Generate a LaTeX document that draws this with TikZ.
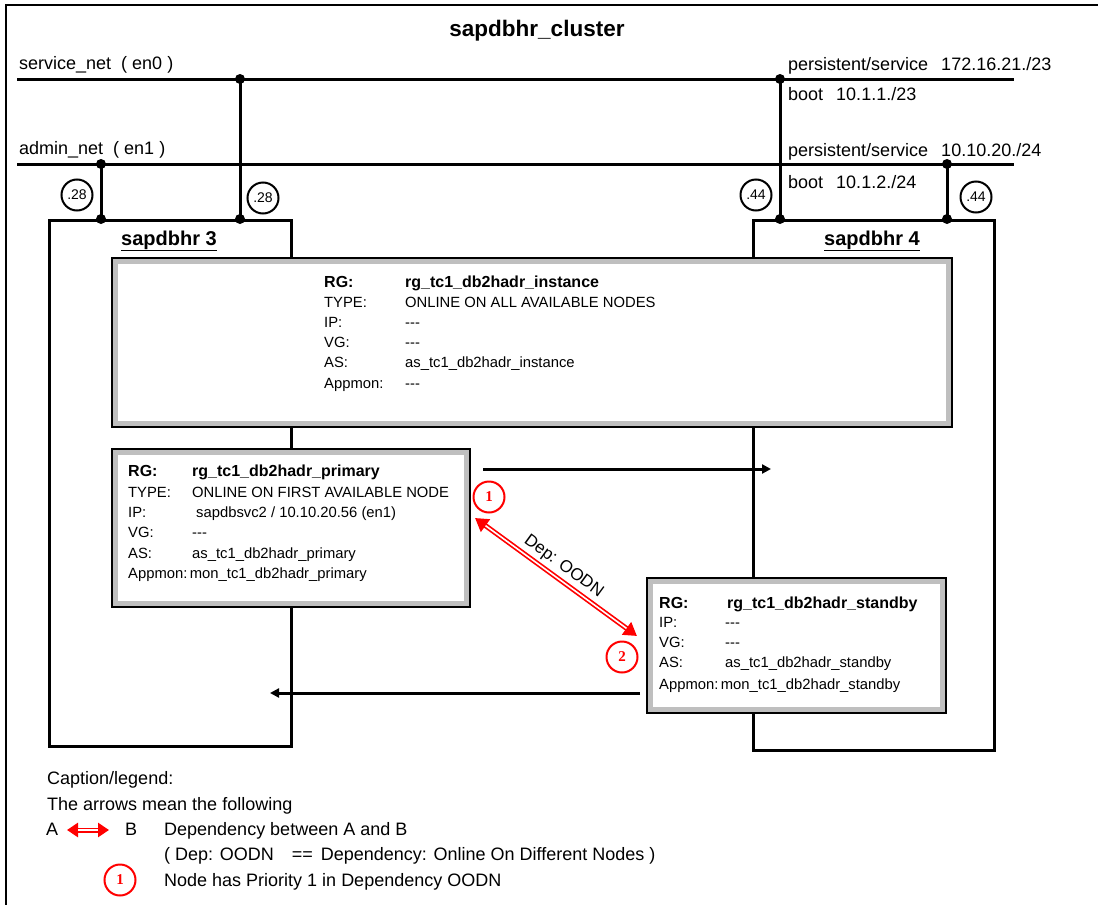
\documentclass[tikz,border=0pt]{standalone}
\usepackage{fontspec}
\setmainfont{Liberation Sans}
\newfontfamily\serifnum{Liberation Serif}
\usetikzlibrary{arrows.meta}
\newcommand{\nil}{-{}-{}-}
\begin{document}
\begin{tikzpicture}[x=1pt,y=-1pt,
  net/.style={line width=3pt},
  hostbox/.style={draw, line width=2.5pt, anchor=north west, inner sep=0pt},
  dot/.style={circle, fill, inner sep=0pt, minimum size=10pt},
  ipc/.style={circle, draw, line width=2pt, minimum size=31pt, inner sep=0pt, font=\fontsize{14}{14}\selectfont},
  prio/.style={circle, draw=red, line width=2pt, minimum size=31pt, inner sep=0pt, text=red, font=\serifnum\bfseries\fontsize{15}{15}\selectfont},
  lbl/.style={anchor=base west, inner sep=0pt, font=\fontsize{18}{18}\selectfont},
  ttl/.style={anchor=base, inner sep=0pt, font=\bfseries\fontsize{22.5}{22.5}\selectfont},
  hostlbl/.style={anchor=base, inner sep=0pt, font=\bfseries\fontsize{20}{20}\selectfont},
  bx/.style={anchor=base west, inner sep=0pt, font=\fontsize{14.8}{14.8}\selectfont},
  bxb/.style={anchor=base west, inner sep=0pt, font=\bfseries\fontsize{16}{16}\selectfont},
  rgbox/.style={draw, line width=2pt, fill=gray!50, anchor=north west, inner sep=0pt},
  flow/.style={line width=3pt, -{Triangle[length=9pt,width=9pt]}},
  dep/.style={red, line width=5pt, {Triangle[length=13pt,width=15pt]}-{Triangle[length=13pt,width=15pt]}},
  depin/.style={white, line width=1.6pt, shorten <=13pt, shorten >=13pt}
]
\useasboundingbox (0,0) rectangle (1098,905);
\fill[white] (0,0) rectangle (1098,905);
% frame
\draw[line width=1.5pt] (6,905) -- (6,5) -- (1098,5);

% title
\node[ttl] (title) at (537,36) {sapdbhr\_cluster};

% networks
\coordinate (snw) at (17,79);  \coordinate (sne) at (1014,79);
\coordinate (anw) at (17,164); \coordinate (ane) at (1014,164);
\draw[net] (snw) -- (sne);
\draw[net] (anw) -- (ane);
\node[lbl] (snl) at (19,69) {service\_net\ \ ( en0 )};
\node[lbl] (anl) at (19,154) {admin\_net\ \ ( en1 )};
\node[lbl] (ps1) at (788,70) {persistent/service\hspace{13pt}172.16.21./23};
\node[lbl] (bt1) at (788,100) {boot\hspace{13pt}10.1.1./23};
\node[lbl] (ps2) at (788,156) {persistent/service\hspace{13pt}10.10.20./24};
\node[lbl] (bt2) at (788,188) {boot\hspace{13pt}10.1.2./24};

% host boxes
\node[hostbox, minimum width=242pt, minimum height=526pt] (h3) at (48,219) {};
\node[hostbox, minimum width=241pt, minimum height=530pt] (h4) at (752,219) {};
\node[hostlbl] (h3l) at (169,245) {\underline{sapdbhr 3}};
\node[hostlbl] (h4l) at (872,245) {\underline{sapdbhr 4}};

% host connections
\coordinate (s3) at (240,79);  \coordinate (a3) at (101,164);
\coordinate (s4) at (780,79);  \coordinate (a4) at (947,164);
\draw[net] (s3) -- (s3 |- h3.north);
\draw[net] (a3) -- (a3 |- h3.north);
\draw[net] (s4) -- (s4 |- h4.north);
\draw[net] (a4) -- (a4 |- h4.north);
\foreach \c/\h in {s3/h3,a3/h3,s4/h4,a4/h4}{
  \node[dot] at (\c) {};
  \node[dot] at (\c |- \h.north) {};
}
\node[ipc] (c1) at (77,195) {.28};
\node[ipc] (c2) at (263,198) {.28};
\node[ipc] (c3) at (756,195) {.44};
\node[ipc] (c4) at (976,197) {.44};

% RG instance
\node[rgbox, minimum width=840pt, minimum height=169pt] (rgi) at (111,257) {};
\fill[white] ([shift={(7,7)}]rgi.north west) rectangle ([shift={(-7,-7)}]rgi.south east);
\node[bxb] (i1) at (324,287) {RG:};
\node[bxb] (i1v) at (405,287) {rg\_tc1\_db2hadr\_instance};
\node[bx] (i2) at (324,307) {TYPE:};
\node[bx] (i2v) at (405,307) {ONLINE ON ALL AVAILABLE NODES};
\node[bx] (i3) at (324,327) {IP:};
\node[bx] (i3v) at (405,327) {\nil};
\node[bx] (i4) at (324,347) {VG:};
\node[bx] (i4v) at (405,347) {\nil};
\node[bx] (i5) at (324,367) {AS:};
\node[bx] (i5v) at (405,367) {as\_tc1\_db2hadr\_instance};
\node[bx] (i6) at (324,388) {Appmon:};
\node[bx] (i6v) at (405,388) {\nil};

% RG primary
\node[rgbox, minimum width=358pt, minimum height=158pt] (rgp) at (111,448) {};
\fill[white] ([shift={(7,7)}]rgp.north west) rectangle ([shift={(-7,-7)}]rgp.south east);
\node[bxb] (p1) at (128,476) {RG:};
\node[bxb] (p1v) at (192,476) {rg\_tc1\_db2hadr\_primary};
\node[bx] (p2) at (128,497) {TYPE:};
\node[bx] (p2v) at (192,497) {ONLINE ON FIRST AVAILABLE NODE};
\node[bx] (p3) at (128,517) {IP:};
\node[bx] (p3v) at (196,517) {sapdbsvc2 / 10.10.20.56 (en1)};
\node[bx] (p4) at (128,537) {VG:};
\node[bx] (p4v) at (192,537) {\nil};
\node[bx] (p5) at (128,558) {AS:};
\node[bx] (p5v) at (192,558) {as\_tc1\_db2hadr\_primary};
\node[bx] (p6) at (128,578) {Appmon:\,mon\_tc1\_db2hadr\_primary};

% RG standby
\node[rgbox, minimum width=299pt, minimum height=135pt] (rgs) at (646,577) {};
\fill[white] ([shift={(7,7)}]rgs.north west) rectangle ([shift={(-7,-7)}]rgs.south east);
\node[bxb] (s1) at (659,608) {RG:};
\node[bxb] (s1v) at (727,608) {rg\_tc1\_db2hadr\_standby};
\node[bx] (s2) at (659,627) {IP:};
\node[bx] (s2v) at (725,627) {\nil};
\node[bx] (s3l) at (659,647) {VG:};
\node[bx] (s3v) at (725,647) {\nil};
\node[bx] (s4l) at (659,667) {AS:};
\node[bx] (s4v) at (725,667) {as\_tc1\_db2hadr\_standby};
\node[bx] (s5) at (659,689) {Appmon:\,mon\_tc1\_db2hadr\_standby};

% flow arrows
\coordinate (f1s) at (483,469); \coordinate (f1e) at (771,469);
\draw[flow] (f1s) -- (f1e);
\coordinate (f2s) at (640,693); \coordinate (f2e) at (270,693);
\draw[flow] (f2s) -- (f2e);

% dependency arrow
\coordinate (dp1) at (475,518); \coordinate (dp2) at (637,636);
\draw[dep] (dp1) -- (dp2);
\draw[depin] (dp1) -- (dp2);
\path (dp1) -- node[sloped, above=5pt, inner sep=0pt, font=\fontsize{17}{17}\selectfont] (deplbl) {Dep: OODN} (dp2);
\node[prio] (pr1) at (489,497) {1};
\node[prio] (pr2) at (622,657) {2};

% legend
\node[lbl] (lg1) at (47,784) {Caption/legend:};
\node[lbl] (lg2) at (47,810) {The arrows mean the following};
\node[lbl] (lgA) at (46,835) {A};
\node[lbl] (lgB) at (125,835) {B};
\coordinate (la1) at (67,830); \coordinate (la2) at (109,830);
\draw[red, line width=5pt, {Triangle[length=11pt,width=14pt]}-{Triangle[length=11pt,width=14pt]}] (la1) -- (la2);
\draw[white, line width=1.4pt, shorten <=11pt, shorten >=11pt] (la1) -- (la2);
\node[lbl] (lg3) at (164,835) {Dependency between A and B};
\node[lbl] (lg4) at (164,860) {( Dep: OODN\hspace{18pt}==\hspace{8pt}Dependency: Online On Different Nodes )};
\node[prio] (lgc) at (120,880) {1};
\node[lbl] (lg5) at (164,886) {Node has Priority 1 in Dependency OODN};
\end{tikzpicture}
\end{document}
